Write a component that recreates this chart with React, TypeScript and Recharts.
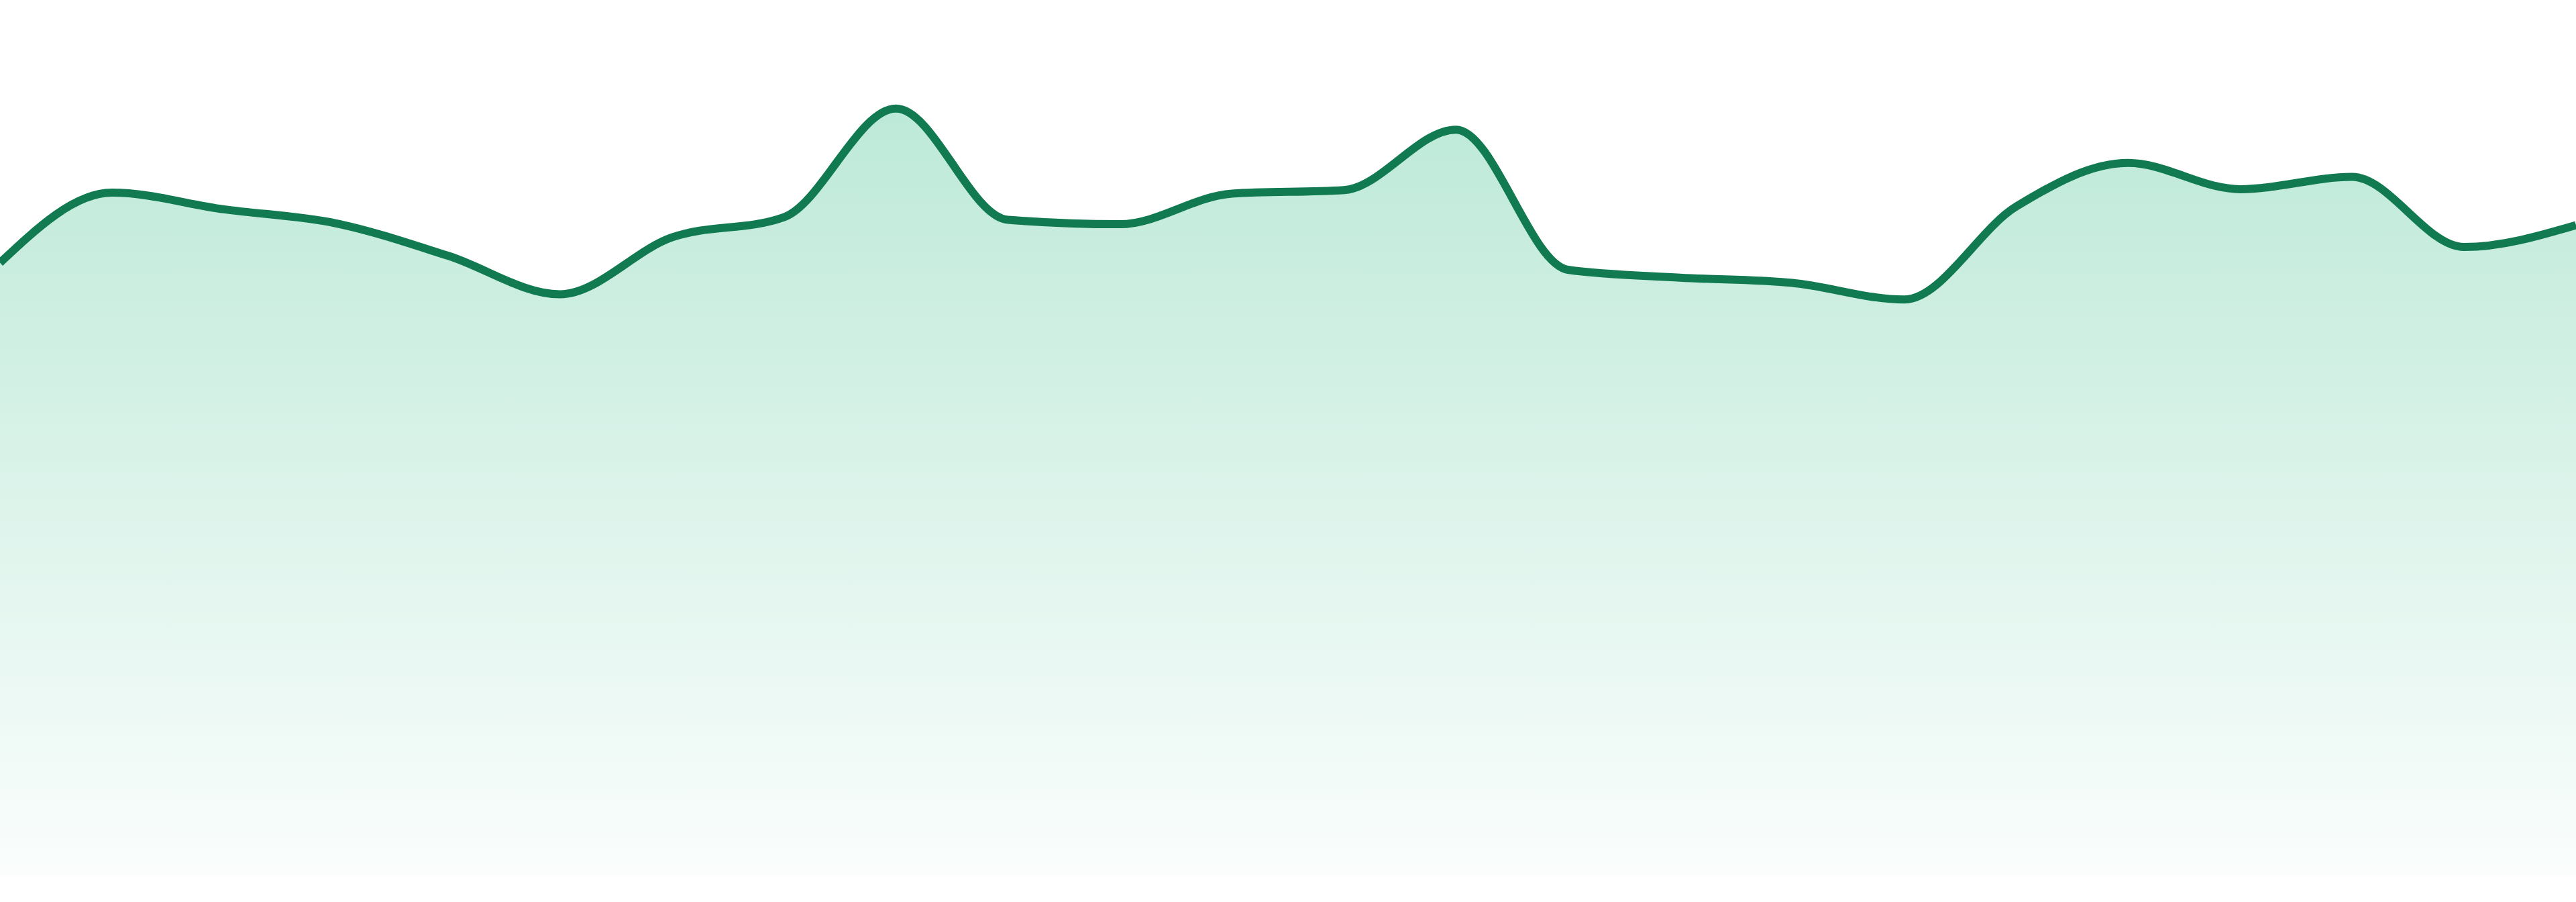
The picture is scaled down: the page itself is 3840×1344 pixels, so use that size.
import React from 'react';
import { AreaChart, Area, XAxis, YAxis } from 'recharts';

// 24 evenly spaced samples (0-100 scale)
const labels: string[] = [
  'P1', 'P2', 'P3', 'P4', 'P5', 'P6', 'P7', 'P8', 'P9', 'P10', 'P11', 'P12',
  'P13', 'P14', 'P15', 'P16', 'P17', 'P18', 'P19', 'P20', 'P21', 'P22', 'P23', 'P24',
];

const values: number[] = [
  70.0, 78.0, 76.1, 74.5, 70.8, 66.4, 72.9, 75.2, 87.6, 74.9, 74.4, 77.9,
  78.3, 85.2, 69.2, 68.3, 67.7, 65.8, 76.4, 81.4, 78.4, 79.8, 71.8, 74.3,
];

const yDomain: [number, number] = [0, 100];

const data = labels.map((name, i) => ({ name, value: values[i] }));

const App: React.FC = () => {
  return (
    <div style={{ position: 'absolute', left: 0, top: 0, width: 3840, height: 1344, background: '#fff' }}>
      <AreaChart
        width={3840}
        height={1344}
        data={data}
        margin={{ top: 0, right: 0, bottom: 39, left: 0 }}
      >
        <defs>
          <linearGradient id="areaFill" x1="0" y1="0" x2="0" y2="1">
            <stop offset="0%" stopColor="#23b67d" stopOpacity={0.3} />
            <stop offset="100%" stopColor="#23b67d" stopOpacity={0.02} />
          </linearGradient>
        </defs>
        <XAxis dataKey="name" hide />
        <YAxis hide domain={yDomain} />
        <Area
          type="monotone"
          dataKey="value"
          stroke="#117a51"
          strokeWidth={12}
          fill="url(#areaFill)"
          fillOpacity={1}
          dot={false}
          activeDot={false}
          isAnimationActive={false}
        />
      </AreaChart>
    </div>
  );
};

export default App;
